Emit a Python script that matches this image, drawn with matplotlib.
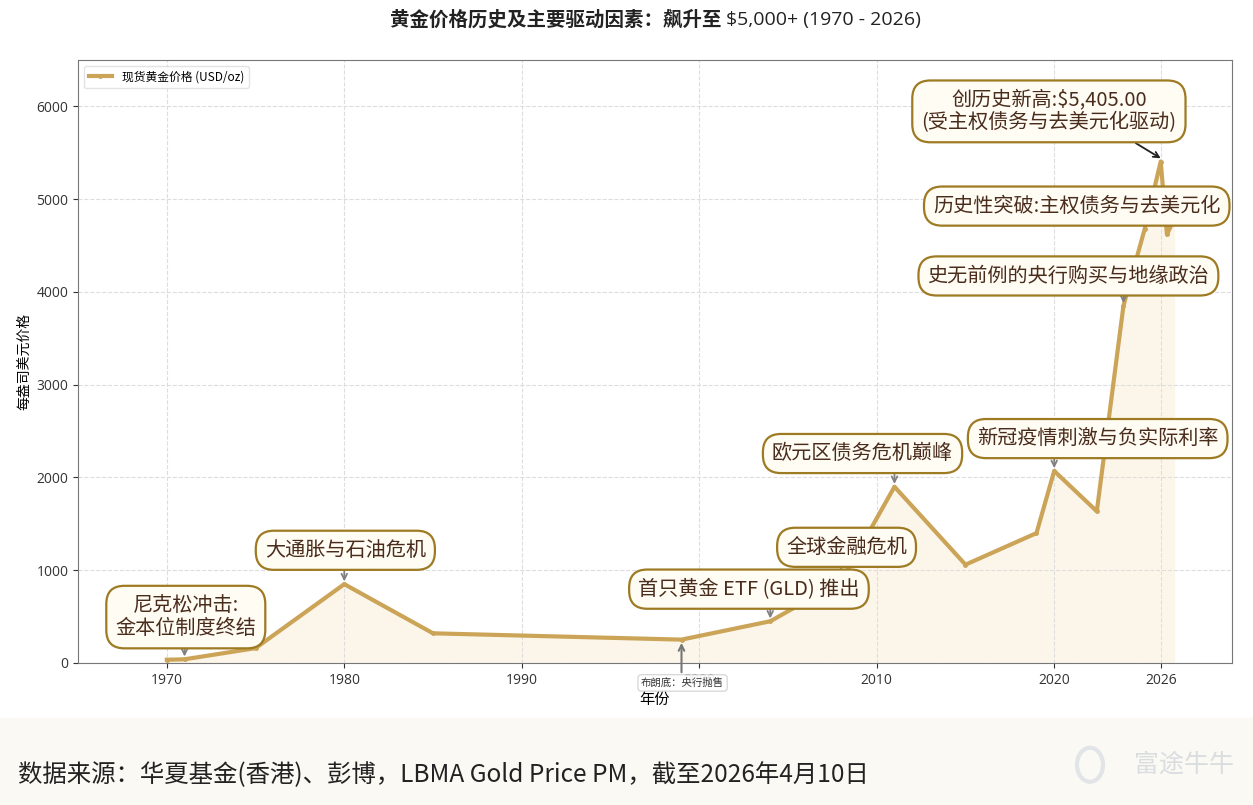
import numpy as np
import matplotlib
matplotlib.use("Agg")
import matplotlib.pyplot as plt
from matplotlib.patches import Rectangle, Ellipse

plt.rcParams['font.family'] = ['Noto Sans CJK SC', 'DejaVu Sans']

# spot gold price
years = [1970, 1971, 1975, 1980, 1985, 1999, 2004, 2008, 2011, 2015, 2019, 2020,
         2022.4, 2023.9, 2025.1, 2026.0, 2026.35, 2026.75]
prices = [35, 40, 160, 850, 320, 252, 450, 880, 1900, 1060, 1400, 2070,
          1635, 3850, 4680, 5405, 4620, 4780]

# event labels and the point each one marks
event_labels = ["尼克松冲击:\n金本位制度终结", "大通胀与石油危机", "首只黄金 ETF (GLD) 推出",
                "全球金融危机", "欧元区债务危机巅峰", "新冠疫情刺激与负实际利率",
                "史无前例的央行购买与地缘政治", "历史性突破:主权债务与去美元化"]
event_years = [1971, 1980, 2004, 2008, 2011, 2020, 2023.9, 2025.1]
event_prices = [40, 850, 450, 880, 1900, 2070, 3850, 4680]
peak_label = "创历史新高:$5,405.00\n(受主权债务与去美元化驱动)"
peak_year, peak_price = 2026.0, 5405
low_label = "布朗底：央行抛售"
low_year, low_price = 1999, 252
xticks = [1970, 1980, 1990, 2000, 2010, 2020, 2026]

# where the label boxes sit (data coords)
box_pos = [(1971.07, 495), (1980.06, 1215), (2002.8, 796), (2008.3, 1247),
           (2009.2, 2258), (2022.45, 2419), (2020.8, 4172), (2021.27, 4925)]

gold = "#CBA458"
edge = "#9E7A22"
txt = "#4A2C1C"

fig = plt.figure(figsize=(12.53, 8.05), dpi=100)
fig.patches.append(Rectangle((0, 0), 1, 0.108, transform=fig.transFigure,
                             color="#FAF9F3", zorder=0))
ax = fig.add_axes([0.0623, 0.1764, 0.9207, 0.7491])

ax.fill_between(years, prices, 0, color="#FCF6EA", zorder=1)
ax.plot(years, prices, color=gold, lw=3, marker='o', markersize=2.5,
        label="现货黄金价格 (USD/oz)", zorder=3)

ax.set_xlim(1965, 2030)
ax.set_ylim(0, 6500)
ax.set_xticks(xticks)
ax.set_yticks(range(0, 6001, 1000))
ax.tick_params(labelsize=10, colors="#333333")
for lab in ax.get_xticklabels() + ax.get_yticklabels():
    lab.set_family(['Open Sans', 'DejaVu Sans'])
ax.grid(True, ls='--', color="#DDDDDD", lw=0.8)
for s in ax.spines.values():
    s.set_color("#777777")
ax.set_xlabel("年份", fontsize=11, labelpad=2)
ax.set_ylabel("每盎司美元价格", fontsize=10)
ax.legend(loc="upper left", fontsize=8.5, frameon=True, edgecolor="#DDDDDD")

box = dict(boxstyle="round,pad=0.45,rounding_size=0.9", fc="#FFFCF4", ec=edge, lw=1.6)
for label, yr, pr, (bx, by) in zip(event_labels, event_years, event_prices, box_pos):
    ax.text(bx, by, label, ha='center', va='center', fontsize=14.5,
            fontweight='medium', color=txt, bbox=box, zorder=5, linespacing=1.15)
    half = 260 if "\n" in label else 195
    ax.annotate("", xy=(yr, pr + 30), xytext=(yr, by - half),
                arrowprops=dict(arrowstyle="->", color="#808080", lw=1.3,
                                shrinkA=0, shrinkB=0), zorder=4)

ax.text(2019.7, 5946, peak_label, ha='center', va='center', fontsize=14.5,
        fontweight='medium', color=txt, bbox=box, zorder=5, linespacing=1.1)
ax.annotate("", xy=(peak_year, peak_price + 35), xytext=(2024.6, 5603),
            arrowprops=dict(arrowstyle="->", color="#222222", lw=1.3,
                            shrinkA=0, shrinkB=0), zorder=4)

ax.text(low_year + 0.06, -215, low_label, ha='center', va='center', fontsize=7.5,
        color="#333333", zorder=6, clip_on=False,
        bbox=dict(boxstyle="round,pad=0.3", fc="white", ec="#CCCCCC", lw=0.8, alpha=0.9))
ax.annotate("", xy=(low_year, low_price - 35), xytext=(low_year, -100),
            annotation_clip=False,
            arrowprops=dict(arrowstyle="->", color="#777777", lw=1.5,
                            shrinkA=0, shrinkB=0), zorder=4)

# title: bold Chinese part + regular latin part, centred over the axes
t1 = fig.text(0, 0.975, "黄金价格历史及主要驱动因素：飙升至 ", ha='left', va='center',
              fontsize=14, fontweight='bold', color="#222222")
t2 = fig.text(0, 0.975, "$5,000+ (1970 - 2026)", ha='left', va='center',
              fontsize=14, color="#222222", family=['Open Sans', 'DejaVu Sans'])
r = fig.canvas.get_renderer()
w1 = t1.get_window_extent(r).width
w2 = t2.get_window_extent(r).width
x0 = 655 - (w1 + w2) / 2
t1.set_x(x0 / 1253)
t2.set_x((x0 + w1) / 1253)

fig.text(0.014, 0.037, "数据来源：华夏基金(香港)、彭博，LBMA Gold Price PM，截至2026年4月10日",
         ha='left', va='center', fontsize=17.6, color="#222222")
fig.patches.append(Ellipse((1090 / 1253, 0.05), 26 / 1253, 34 / 805,
                           transform=fig.transFigure, fill=False,
                           ec="#E2E5E8", lw=3))
fig.text(0.985, 0.05, "富途牛牛", ha='right', va='center', fontsize=18,
         color="#D9DDE0")

fig.savefig("out.png", dpi=100)
